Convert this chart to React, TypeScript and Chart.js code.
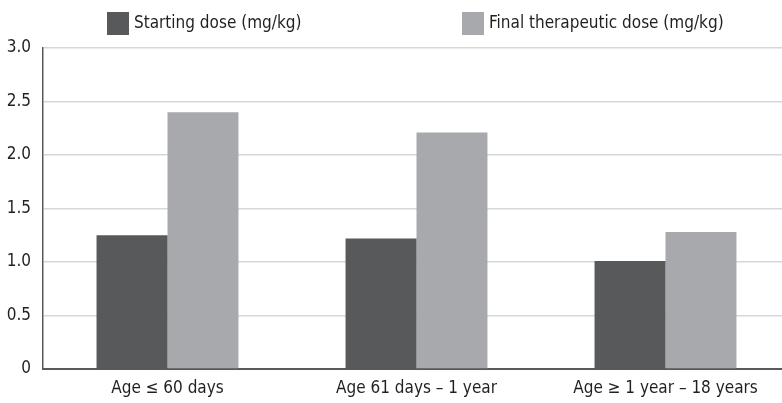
import React, { useEffect, useRef } from "react";
import { Chart, registerables } from "chart.js";

Chart.register(...registerables);

const categories = ["Age ≤ 60 days", "Age 61 days – 1 year", "Age ≥ 1 year – 18 years"];
const startingDose = [1.25, 1.22, 1.01];
const finalDose = [2.4, 2.21, 1.28];
const seriesNames = ["Starting dose (mg/kg)", "Final therapeutic dose (mg/kg)"];
const yTicks = [0, 0.5, 1.0, 1.5, 2.0, 2.5, 3.0];

const FONT = "'Liberation Sans Narrow', 'DejaVu Sans Condensed', 'Roboto Condensed', sans-serif";
const DARK = "#58595b";
const LIGHT = "#a7a9ac";
const TEXT = "#231f20";

const legendPlugin = {
  id: "customLegend",
  afterDraw(chart: any) {
    const { ctx, chartArea } = chart;
    const offsets = [64, 419];
    const colors = [DARK, LIGHT];
    ctx.save();
    ctx.font = `17px ${FONT}`;
    ctx.textBaseline = "middle";
    ctx.textAlign = "left";
    seriesNames.forEach((name, i) => {
      const x = chartArea.left + offsets[i];
      const y = 12;
      ctx.fillStyle = colors[i];
      ctx.fillRect(x, y, 22, 23);
      ctx.fillStyle = TEXT;
      ctx.fillText(name, x + 27, y + 12);
    });
    ctx.restore();
  },
};

export default function App() {
  const ref = useRef<HTMLCanvasElement | null>(null);
  useEffect(() => {
    if (!ref.current) return;
    const chart = new Chart(ref.current, {
      type: "bar",
      data: {
        labels: categories,
        datasets: [
          { label: seriesNames[0], data: startingDose, backgroundColor: DARK, categoryPercentage: 0.57, barPercentage: 1.0 },
          { label: seriesNames[1], data: finalDose, backgroundColor: LIGHT, categoryPercentage: 0.57, barPercentage: 1.0 },
        ],
      },
      options: {
        animation: false,
        responsive: false,
        devicePixelRatio: 1,
        layout: { padding: { top: 48, left: 0, right: 0, bottom: 0 } },
        plugins: { legend: { display: false }, tooltip: { enabled: false } },
        scales: {
          x: {
            afterFit: (s: any) => { s.height = 34; },
            grid: { display: false, drawTicks: false },
            border: { display: true, color: "#58595b", width: 2 },
            ticks: { color: TEXT, font: { family: FONT, size: 17 }, padding: 9 },
          },
          y: {
            min: 0,
            max: 3,
            afterFit: (s: any) => { s.width = 43; },
            afterBuildTicks: (s: any) => { s.ticks = yTicks.map((v) => ({ value: v })); },
            grid: { color: "#d6d7d9", lineWidth: 1.5, drawTicks: false },
            border: { display: true, color: "#58595b", width: 1.5 },
            ticks: {
              color: TEXT,
              font: { family: FONT, size: 17 },
              padding: 12,
              callback: (v: any) => (v === 0 ? "0" : Number(v).toFixed(1)),
            },
          },
        },
      },
      plugins: [legendPlugin],
    });
    return () => chart.destroy();
  }, []);
  return (
    <div style={{ position: "absolute", left: 0, top: 0, width: 782, height: 403, overflow: "hidden", background: "#fff" }}>
      <canvas ref={ref} width={790} height={403} style={{ width: 790, height: 403, display: "block" }} />
    </div>
  );
}
